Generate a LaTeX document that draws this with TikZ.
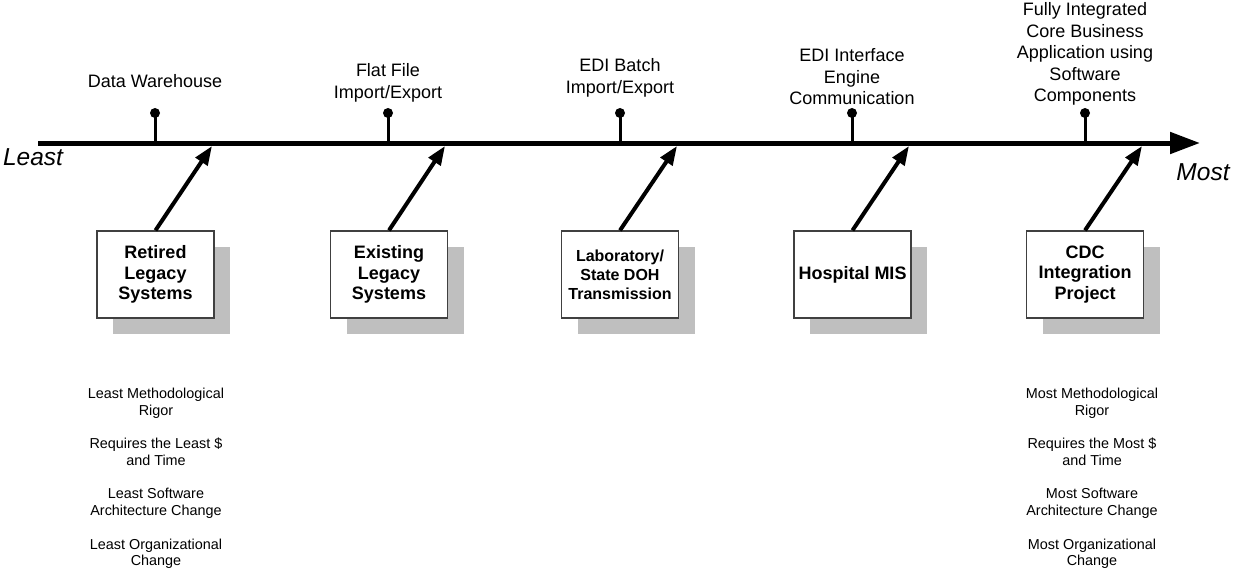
\documentclass[tikz,border=0pt]{standalone}
\usepackage{fontspec}
\setmainfont{Liberation Sans}
\usetikzlibrary{arrows.meta,shadows,positioning}

\begin{document}
\begin{tikzpicture}[x=1pt, y=-1pt, >={Triangle[length=19pt,width=14pt]}]
        \tikzstyle{system}=[draw=black!75, line width=1.3pt, fill=white, minimum width=117pt, minimum height=87pt, inner sep=0pt, align=center, font=\fontsize{18}{20.5}\selectfont\bfseries, general shadow={fill=black!25, shadow xshift=16pt, shadow yshift=-16pt}]
        \tikzstyle{dot}=[circle, fill=black, inner sep=0pt, minimum size=10pt]
        \tikzstyle{stem}=[line width=3pt]
        \tikzstyle{push}=[->, line width=4pt]
        \tikzstyle{kind}=[align=center, inner sep=0pt, font=\fontsize{18}{21.5}\selectfont]
        \tikzstyle{cost}=[align=center, inner sep=0pt, font=\fontsize{14.4}{16.7}\selectfont]
        \tikzstyle{ends}=[inner sep=0pt, font=\fontsize{24.5}{28}\selectfont\itshape]
        \useasboundingbox (0,0) rectangle (1233,583);

        % axis
        \coordinate (axL) at (38,143);
        \coordinate (axR) at (1200,143);
        \draw[line width=5pt, -{Triangle[length=30pt,width=21pt]}] (axL) -- (axR);
        \node[ends]     (Least)   at (33,157)     {Least};
        \node[ends]     (Most)    at (1203,172)   {Most};

        % integration levels
        \node[dot]      (D_dw)    at (155,113)    {};
        \node[dot]      (D_flat)  at (388,113)    {};
        \node[dot]      (D_batch) at (620,113)    {};
        \node[dot]      (D_eng)   at (852,113)    {};
        \node[dot]      (D_comp)  at (1085,113)   {};
        \node[kind]     (L_dw)    at (155,81)     {Data Warehouse};
        \node[kind]     (L_flat)  at (388,83)     {Flat File\\Import/Export};
        \node[kind]     (L_batch) at (620,78)     {EDI Batch\\Import/Export};
        \node[kind]     (L_eng)   at (852,77)     {EDI Interface\\Engine\\Communication};
        \node[kind]     (L_comp)  at (1085,54)    {Fully Integrated\\Core Business\\Application using\\Software\\Components};
        \foreach \d in {D_dw,D_flat,D_batch,D_eng,D_comp}
            \draw[stem] (\d.center) -- (\d |- axL);

        % systems
        \node[system]   (S_ret)   at (155.5,274.5) {Retired\\Legacy\\Systems};
        \node[system]   (S_exist) at (389,274.5)   {Existing\\Legacy\\Systems};
        \node[system, font=\fontsize{16}{19}\selectfont\bfseries]
                        (S_lab)   at (620,274.5)   {Laboratory/\\State DOH\\Transmission};
        \node[system]   (S_hosp)  at (852.5,274.5) {Hospital MIS};
        \node[system]   (S_cdc)   at (1085,274.5)  {CDC\\Integration\\Project};
        \coordinate (T_ret)   at (212,146);
        \coordinate (T_exist) at (445,146);
        \coordinate (T_lab)   at (677,146);
        \coordinate (T_hosp)  at (909,146);
        \coordinate (T_cdc)   at (1142,146);
        \path
        (S_ret.north)   edge[push] (T_ret)
        (S_exist.north) edge[push] (T_exist)
        (S_lab.north)   edge[push] (T_lab)
        (S_hosp.north)  edge[push] (T_hosp)
        (S_cdc.north)   edge[push] (T_cdc);

        % effort
        \node[cost]     (C_least) at (156,478.5)  {Least Methodological\\Rigor\\[16.7pt]Requires the Least \$\\and Time\\[16.7pt]Least Software\\Architecture Change\\[16.7pt]Least Organizational\\Change};
        \node[cost]     (C_most)  at (1092,478.5) {Most Methodological\\Rigor\\[16.7pt]Requires the Most \$\\and Time\\[16.7pt]Most Software\\Architecture Change\\[16.7pt]Most Organizational\\Change};
\end{tikzpicture}
\end{document}
